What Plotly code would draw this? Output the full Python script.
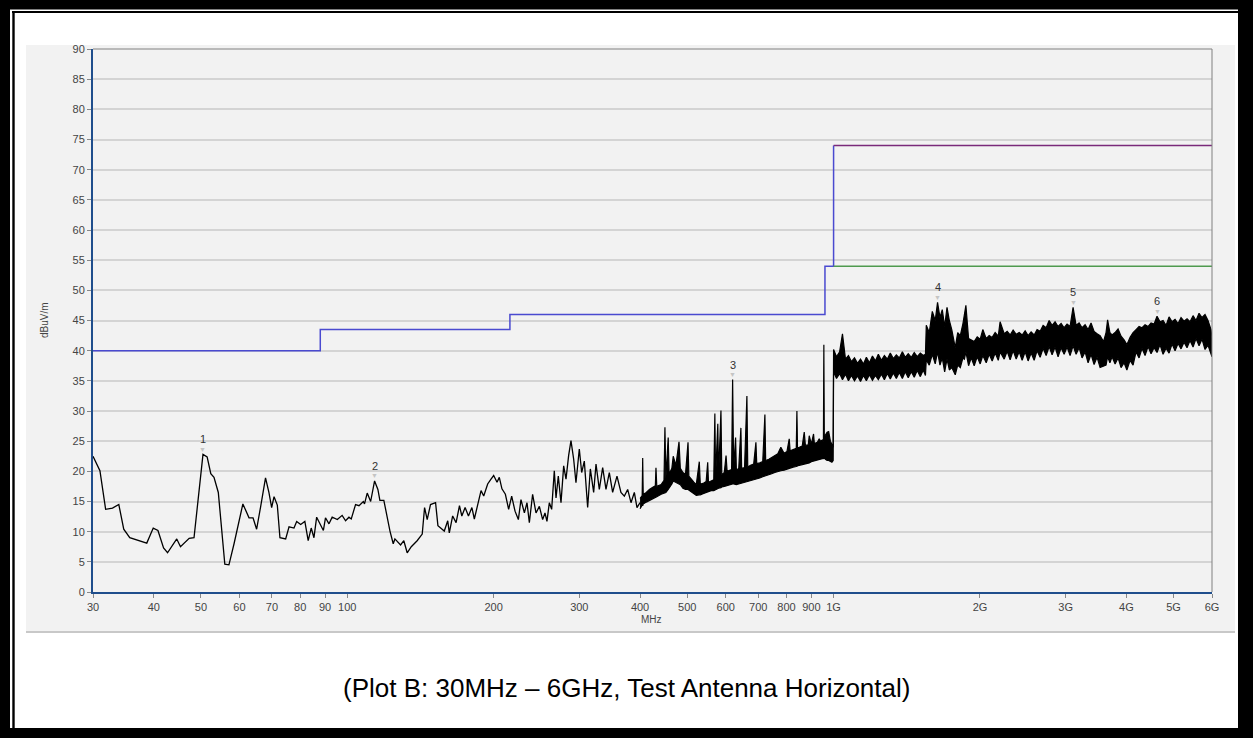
import math
import plotly.graph_objects as go

# ---------------- data ----------------
# measured trace, 30 MHz - 155 MHz
low_freq = [30.0, 31.0, 31.85, 32.9, 33.9, 34.7, 35.7, 37.6, 38.7, 39.9,
            40.8, 41.9, 42.7, 44.6, 45.4, 47.3, 48.4, 50.5, 51.5, 52.4,
            53.2, 54.3, 56.0, 57.1, 58.5, 61.0, 62.8, 64.0, 65.1, 66.3,
            67.9, 69.0, 69.9, 70.7, 71.8, 72.7, 74.7, 75.9, 77.7, 78.7,
            80.2, 81.8, 83.1, 84.3, 85.4, 86.5, 88.1, 89.3, 90.2, 91.7,
            93.1, 95.4, 97.6, 99.2, 100.8, 101.9, 104.0, 105.7, 107.9, 108.5,
            109.9, 111.7, 113.8, 115.6, 116.7, 118.9, 122.4, 124.3, 125.3, 128.7,
            130.7, 132.8, 135.4, 139.2, 142.6, 144.2, 146.0, 148.3, 151.9, 153.6]
low_level = [22.5, 20.1, 13.7, 13.9, 14.5, 10.4, 9.0, 8.4, 8.1, 10.6,
             10.2, 7.3, 6.5, 8.8, 7.5, 8.9, 9.0, 22.8, 22.4, 19.6,
             19.0, 16.5, 4.6, 4.5, 8.0, 14.6, 12.3, 12.3, 10.4, 14.0,
             18.9, 16.5, 14.0, 15.8, 14.4, 9.0, 8.8, 10.8, 10.6, 11.7,
             11.2, 11.7, 8.5, 10.6, 9.0, 12.4, 11.0, 10.2, 12.3, 11.3,
             12.4, 12.0, 12.7, 11.8, 12.4, 12.1, 14.5, 14.3, 15.0, 14.6,
             16.4, 15.0, 18.4, 17.0, 15.2, 15.2, 10.1, 8.0, 8.8, 7.8,
             8.5, 6.5, 7.5, 8.5, 9.6, 14.0, 12.0, 14.5, 14.8, 11.0]

# measured trace, 155 MHz - 400 MHz
mid_freq = [158.3, 160.9, 162.1, 164.7, 167.4, 170.1, 172.0, 174.7, 177.5, 180.4,
            182.5, 185.4, 188.4, 190.8, 194.4, 197.5, 200.0, 203.2, 205.4, 208.0,
            211.4, 214.7, 217.8, 221.3, 224.8, 227.6, 231.3, 234.2, 236.8, 240.5,
            244.4, 248.3, 252.2, 255.0, 257.4, 260.3, 263.2, 266.5, 268.7, 271.6,
            275.1, 278.6, 281.7, 285.2, 288.4, 292.1, 295.3, 300.0, 303.4, 307.2,
            312.1, 316.1, 321.1, 324.7, 329.8, 335.1, 340.4, 345.8, 351.3, 358.6,
            365.4, 371.3, 377.2, 383.2, 389.3, 394.2, 400.0]
mid_level = [10.1, 11.8, 9.8, 12.6, 11.5, 14.3, 12.6, 14.0, 12.6, 14.0,
             12.1, 14.3, 16.8, 15.9, 17.9, 18.7, 19.3, 18.2, 19.0, 17.1,
             16.2, 13.7, 15.9, 13.4, 12.0, 15.3, 13.1, 14.8, 11.5, 16.2,
             13.1, 14.2, 12.0, 13.1, 11.7, 14.8, 13.7, 20.1, 15.6, 19.2,
             14.8, 20.9, 18.7, 22.6, 25.1, 22.0, 18.1, 23.7, 19.8, 21.7,
             14.0, 20.4, 16.5, 21.2, 17.0, 20.6, 17.0, 19.8, 16.5, 19.2,
             16.5, 15.9, 17.0, 14.8, 16.5, 14.0, 14.8]

# dense sweep 400 MHz - 6 GHz, drawn as min / max band of the trace
env_freq = [400, 404, 405, 406, 412, 418, 424, 430, 431.3, 433,
            442, 448, 450, 452, 457, 459, 465, 468, 474, 481,
            484, 490, 496, 502, 504, 510, 516, 522, 529.5, 532,
            539, 547, 551, 553, 560, 567, 570, 572, 578, 580,
            586.7, 589, 596, 601, 604, 612, 617, 620, 623, 628.8,
            631, 638, 644.8, 647, 656, 663.4, 666, 675, 685, 692.3,
            695, 705, 715, 722.4, 725, 736, 746, 757, 768, 779,
            791, 802, 810.6, 814, 826, 838, 840.6, 843, 850, 862,
            870.3, 875, 887, 891.1, 900, 909.5, 913, 926, 934.3, 940,
            948, 953, 955, 957, 962, 970, 977, 985, 992, 998,
            1000, 1014, 1029, 1043, 1058, 1073, 1088, 1104, 1120, 1136,
            1152, 1168, 1185, 1202, 1219, 1236, 1254, 1272, 1290, 1308,
            1327, 1346, 1365, 1385, 1404, 1424, 1445, 1465, 1486, 1508,
            1529, 1545, 1551, 1573, 1596, 1618, 1636, 1655, 1673, 1692,
            1711, 1730, 1750, 1779, 1800, 1822, 1845, 1858, 1871, 1895,
            1919, 1946, 1974, 2002, 2027, 2060, 2089, 2119, 2149, 2181,
            2200, 2243, 2275, 2307, 2340, 2374, 2408, 2442, 2477, 2512,
            2548, 2585, 2621, 2659, 2697, 2736, 2775, 2814, 2854, 2895,
            2937, 2979, 3021, 3064, 3108, 3153, 3198, 3243, 3290, 3337,
            3384, 3433, 3482, 3532, 3590, 3633, 3660, 3700, 3738, 3792,
            3846, 3901, 3957, 4010, 4071, 4129, 4188, 4248, 4308, 4370,
            4432, 4496, 4560, 4625, 4691, 4759, 4827, 4896, 4966, 5037,
            5109, 5182, 5256, 5331, 5407, 5485, 5563, 5643, 5723, 5805,
            5888, 5972, 6000]
env_bottom = [13.8, 14.4, 14.3, 14.6, 14.9, 15.2, 15.4, 15.7, 15.8, 15.8,
              16.2, 16.4, 16.4, 16.5, 17.0, 17.2, 17.9, 18.4, 18.2, 17.9,
              17.8, 17.2, 17.0, 17.0, 16.9, 16.6, 16.2, 16.0, 16.1, 16.1,
              16.3, 16.5, 16.6, 16.6, 16.8, 16.8, 16.9, 17.0, 17.2, 17.2,
              17.3, 17.4, 17.5, 17.6, 17.6, 17.7, 17.8, 17.9, 17.9, 17.8,
              17.8, 17.9, 18.0, 18.1, 18.2, 18.3, 18.3, 18.5, 18.6, 18.7,
              18.8, 18.9, 19.1, 19.2, 19.3, 19.5, 19.6, 19.8, 20.0, 20.1,
              20.2, 20.4, 20.5, 20.5, 20.7, 20.8, 20.9, 20.9, 21.0, 21.1,
              21.2, 21.3, 21.4, 21.4, 21.6, 21.7, 21.8, 21.9, 22.0, 22.1,
              22.1, 22.1, 22.2, 22.2, 22.0, 21.8, 21.8, 21.6, 21.5, 21.8,
              36.5, 35.4, 36.2, 35.2, 36.1, 35.0, 35.9, 35.0, 35.8, 34.9,
              35.9, 35.0, 36.0, 35.1, 35.9, 35.2, 36.1, 35.2, 36.2, 35.3,
              36.3, 35.4, 36.4, 35.4, 36.5, 35.5, 36.5, 35.6, 36.7, 35.7,
              36.8, 35.9, 38.5, 37.6, 39.4, 37.8, 39.8, 37.6, 38.8, 36.5,
              38.6, 36.8, 37.2, 36.0, 37.6, 37.2, 38.8, 38.6, 39.8, 37.5,
              38.8, 37.5, 39.0, 37.8, 39.2, 38.0, 39.4, 38.3, 39.6, 38.4,
              39.8, 38.6, 39.9, 38.5, 40.0, 38.6, 39.8, 38.4, 39.8, 38.3,
              39.6, 38.4, 40.0, 38.9, 40.4, 39.2, 40.7, 39.3, 40.6, 39.0,
              40.5, 39.4, 40.6, 39.2, 40.8, 39.4, 40.5, 38.8, 39.8, 38.0,
              39.4, 37.7, 38.9, 37.2, 37.4, 37.6, 39.0, 38.0, 39.0, 37.8,
              38.8, 37.2, 38.0, 36.8, 38.4, 37.6, 39.8, 38.8, 40.4, 39.2,
              40.7, 39.5, 40.5, 39.7, 41.0, 39.4, 40.4, 39.6, 41.1, 40.0,
              41.2, 40.3, 41.4, 40.5, 41.7, 40.6, 42.0, 40.8, 41.9, 40.2,
              40.9, 39.3, 39.0]
env_top = [15.5, 16.0, 22.2, 16.2, 16.5, 17.0, 17.3, 17.6, 20.6, 17.5,
           17.8, 18.5, 27.3, 18.8, 25.6, 19.5, 20.5, 22.5, 21.0, 24.9,
           20.5, 19.8, 19.5, 24.8, 19.2, 18.6, 18.2, 17.8, 21.6, 17.9,
           18.0, 18.3, 21.5, 18.2, 18.4, 18.6, 29.6, 19.0, 27.9, 19.2,
           30.1, 19.4, 19.8, 22.6, 20.0, 20.2, 20.3, 35.2, 20.5, 25.6,
           20.4, 20.3, 27.2, 20.5, 20.6, 32.5, 20.7, 21.0, 21.2, 24.8,
           21.3, 21.4, 21.6, 29.4, 21.8, 22.0, 22.3, 22.6, 22.9, 24.0,
           23.0, 23.3, 25.4, 23.4, 23.6, 23.8, 30.0, 23.9, 24.0, 24.2,
           26.5, 24.3, 24.4, 25.9, 24.5, 26.2, 24.6, 24.8, 25.4, 25.0,
           25.2, 25.0, 41.0, 25.5, 26.0, 26.5, 26.6, 25.0, 24.5, 24.0,
           40.2, 39.0, 39.8, 42.8, 38.6, 39.2, 38.2, 38.8, 37.9, 38.6,
           37.8, 38.9, 38.0, 39.1, 38.3, 39.4, 38.4, 39.2, 38.6, 39.6,
           38.7, 39.3, 38.8, 39.8, 38.9, 39.5, 38.9, 39.7, 39.0, 39.6,
           39.2, 39.4, 44.2, 43.0, 46.5, 45.0, 48.0, 45.5, 46.8, 44.0,
           47.2, 45.0, 43.5, 40.5, 43.0, 42.5, 44.5, 46.0, 47.5, 42.0,
           41.8, 41.5, 42.3, 41.9, 43.5, 42.0, 42.5, 42.2, 43.0, 42.4,
           44.8, 42.8, 43.2, 42.6, 43.4, 42.7, 43.0, 42.6, 43.3, 42.5,
           43.1, 42.6, 43.5, 43.2, 44.2, 43.8, 45.0, 44.2, 44.8, 44.0,
           44.5, 43.8, 44.4, 44.0, 47.2, 44.2, 44.6, 43.8, 44.3, 43.5,
           44.6, 43.2, 42.8, 42.5, 41.5, 43.0, 45.1, 43.0, 42.6, 43.0,
           43.6, 42.4, 41.8, 41.0, 42.2, 43.0, 43.5, 44.0, 43.8, 44.3,
           44.0, 44.6, 44.4, 45.7, 44.8, 45.0, 44.2, 45.6, 44.8, 45.2,
           44.5, 45.5, 44.9, 45.3, 44.8, 45.8, 45.0, 46.2, 45.5, 46.0,
           45.0, 43.5, 42.0]

assert len(low_freq) == len(low_level)
assert len(mid_freq) == len(mid_level)
assert len(env_freq) == len(env_bottom) == len(env_top)

# limit lines
qp_limit_freq = [30, 88, 88, 216, 216, 960, 960, 1000, 1000]
qp_limit_level = [40, 40, 43.5, 43.5, 46, 46, 54, 54, 74]
pk_limit_freq = [1000, 6000]
pk_limit_level = [74, 74]
av_limit_freq = [1000, 6000]
av_limit_level = [54, 54]

# peak markers
mk_freq = [50.5, 113.8, 620.0, 1636, 3108, 4625]
mk_level = [22.8, 18.4, 35.2, 48.0, 47.2, 45.7]
mk_label = ["1", "2", "3", "4", "5", "6"]

# axis ticks
x_tickvals = [30, 40, 50, 60, 70, 80, 90, 100, 200, 300, 400, 500, 600, 700,
              800, 900, 1000, 2000, 3000, 4000, 5000, 6000]
x_ticktext = ["30", "40", "50", "60", "70", "80", "90", "100", "200", "300",
              "400", "500", "600", "700", "800", "900", "1G", "2G", "3G", "4G",
              "5G", "6G"]
y_tickvals = list(range(0, 91, 5))

caption = "(Plot B: 30MHz \u2013 6GHz, Test Antenna Horizontal)"

# ---------------- figure ----------------
W, H = 1253, 738
L, R, T, B = 93, 1212, 49, 592


def px(x):
    return (x - L) / (R - L)


def py(y):
    return (B - y) / (B - T)


FONT = "Arial, Liberation Sans, sans-serif"

fig = go.Figure()
fig.add_trace(go.Scatter(x=qp_limit_freq, y=qp_limit_level, mode="lines",
                         line=dict(color="#4a4ad0", width=1.5), hoverinfo="skip"))
fig.add_trace(go.Scatter(x=pk_limit_freq, y=pk_limit_level, mode="lines",
                         line=dict(color="#7a2a7a", width=1.5), hoverinfo="skip"))
fig.add_trace(go.Scatter(x=av_limit_freq, y=av_limit_level, mode="lines",
                         line=dict(color="#4f9a4f", width=1.5), hoverinfo="skip"))
# measured trace below 400 MHz
fig.add_trace(go.Scatter(x=low_freq + mid_freq, y=low_level + mid_level, mode="lines",
                         line=dict(color="black", width=1.3)))
# dense part of the sweep: band between min and max
fig.add_trace(go.Scatter(x=env_freq, y=env_bottom, mode="lines",
                         line=dict(color="black", width=1.2)))
fig.add_trace(go.Scatter(x=env_freq, y=env_top, mode="lines", fill="tonexty",
                         fillcolor="black", line=dict(color="black", width=1.2)))

annotations = []
for f, v, t in zip(mk_freq, mk_level, mk_label):
    annotations.append(dict(x=math.log10(f), y=v, xref="x", yref="y", text="\u25bc",
                            showarrow=False, yshift=5,
                            font=dict(family=FONT, size=7, color="#c4c4c4")))
    annotations.append(dict(x=math.log10(f), y=v, xref="x", yref="y", text=t,
                            showarrow=False, yshift=15,
                            font=dict(family=FONT, size=11, color="#333333")))

annotations.append(dict(x=px(651), y=py(619), xref="paper", yref="paper",
                        xanchor="center", yanchor="middle",
                        text="MHz", showarrow=False,
                        font=dict(family=FONT, size=10, color="#444444")))
annotations.append(dict(x=px(45), y=py(320), xref="paper", yref="paper",
                        xanchor="center", yanchor="middle",
                        text="dBuV/m", showarrow=False, textangle=-90,
                        font=dict(family=FONT, size=10, color="#444444")))
annotations.append(dict(x=px(626), y=py(688), xref="paper", yref="paper",
                        xanchor="center", yanchor="middle",
                        text=caption, showarrow=False,
                        font=dict(family=FONT, size=26, color="black")))

shapes = [
    # light panel behind the chart
    dict(type="rect", xref="paper", yref="paper", x0=px(26), x1=px(1235),
         y0=py(45), y1=py(631), fillcolor="#f2f2f2", line=dict(width=0), layer="below"),
    dict(type="line", xref="paper", yref="paper", x0=px(26), x1=px(1235),
         y0=py(632), y1=py(632), line=dict(color="#c8c8c8", width=2), layer="below"),
    # plot frame top / right
    dict(type="line", xref="paper", yref="paper", x0=0, x1=1, y0=1, y1=1,
         line=dict(color="#808080", width=1), layer="above"),
    dict(type="line", xref="paper", yref="paper", x0=1, x1=1, y0=0, y1=1,
         line=dict(color="#808080", width=1), layer="above"),
]
# outer thick black frame (left, top, right, bottom strips)
for x0, y0, x1, y1 in [(0, 0, 10, H), (0, 0, W, 9.5), (1238, 0, W, H), (0, 728, W, H)]:
    shapes.append(dict(type="rect", xref="paper", yref="paper",
                       x0=px(x0), x1=px(x1), y0=py(y0), y1=py(y1),
                       fillcolor="black", line=dict(width=0), layer="above"))
# inner thin frame line (top and left)
shapes.append(dict(type="line", xref="paper", yref="paper", x0=px(12), x1=px(1238),
                   y0=py(12), y1=py(12), line=dict(color="black", width=2), layer="above"))
shapes.append(dict(type="line", xref="paper", yref="paper", x0=px(13.5), x1=px(13.5),
                   y0=py(11), y1=py(728), line=dict(color="black", width=2.4), layer="above"))

fig.update_layout(
    width=W, height=H,
    margin=dict(l=L, r=W - R, t=T, b=H - B, pad=0),
    paper_bgcolor="white",
    plot_bgcolor="#efefef",
    showlegend=False,
    annotations=annotations,
    shapes=shapes,
    font=dict(family=FONT, size=11, color="#444444"),
)
fig.update_xaxes(type="log", range=[math.log10(30), math.log10(6000)],
                 tickvals=x_tickvals, ticktext=x_ticktext,
                 showgrid=False, zeroline=False,
                 showline=True, linecolor="#1f4e8c", linewidth=2,
                 ticks="outside", ticklen=4, tickcolor="#888888",
                 tickfont=dict(family=FONT, size=11, color="#444444"))
fig.update_yaxes(range=[0, 90], tickvals=y_tickvals,
                 showgrid=True, gridcolor="#d4d4d4", gridwidth=1.5,
                 zeroline=False,
                 showline=True, linecolor="#1f4e8c", linewidth=2,
                 ticks="outside", ticklen=4, tickcolor="#888888",
                 tickfont=dict(family=FONT, size=11, color="#444444"))

fig.write_html("out.html",
               config={"displayModeBar": False},
               post_script="document.body.style.margin='0';"
                           "document.body.style.overflow='hidden';")
